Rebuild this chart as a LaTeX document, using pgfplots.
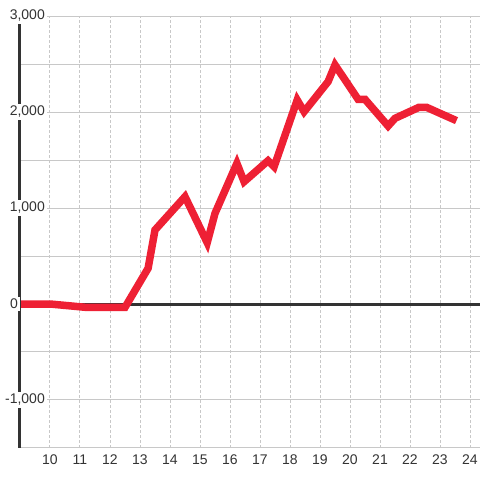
\documentclass[border=0pt]{standalone}
\usepackage{pgfplots}
\pgfplotsset{compat=1.18}
\usepackage{fontspec}
\setmainfont{Liberation Sans}
\definecolor{lred}{RGB}{238,32,52}
\definecolor{axdark}{RGB}{51,51,51}
\definecolor{gridgray}{RGB}{200,200,200}
\definecolor{txt}{RGB}{51,51,51}
\begin{document}
\begin{tikzpicture}
\useasboundingbox (-20pt,-32pt) rectangle (460pt,448pt);
\begin{axis}[
  scale only axis,
  width=460pt, height=432pt,
  xmin=9, xmax=24.3333,
  ymin=-1500, ymax=3000,
  clip=false,
  axis line style={draw=none},
  xtick={10,11,...,24},
  ytick={-1500,-1000,...,3000},
  yticklabels={},
  major tick length=0pt,
  xmajorgrids, ymajorgrids,
  x grid style={color=gridgray, line width=1pt, dash pattern=on 2.5pt off 2.5pt},
  y grid style={color=gridgray, line width=1pt},
  /pgf/number format/assume math mode=true,
  tick label style={font=\fontsize{14}{16}\selectfont, text=txt},
  xticklabel style={yshift=-3pt},
]
\draw[axdark, line width=3pt] (axis cs:9,0) -- (axis cs:24.3333,0);
\addplot[lred, line width=7.5pt, mark=none] coordinates {
(9,0) (10,0) (11.2,-35) (12.5,-35) (13.27,372) (13.5,771) (14.5,1118)
(15.24,639) (15.5,944) (16.23,1465) (16.47,1274) (17.27,1493) (17.47,1430)
(18.24,2125) (18.47,2003) (19.27,2316) (19.5,2490) (20.27,2132) (20.5,2132)
(21.27,1854) (21.5,1934) (22.3,2049) (22.55,2049) (23.55,1910)
};
\draw[axdark, line width=3pt] (axis cs:9,-1500) -- (axis cs:9,3000);
\begin{scope}[every node/.style={fill=white, inner sep=2pt, text=txt, font=\fontsize{14}{16}\selectfont}]
\node[anchor=east] at (axis cs:9.9,3000) {3,000};
\node[anchor=east] at (axis cs:9.9,2000) {2,000};
\node[anchor=east] at (axis cs:9.9,1000) {1,000};
\node[anchor=east] at (axis cs:9.0,0) {0};
\node[anchor=east] at (axis cs:9.9,-1000) {-1,000};
\end{scope}
\end{axis}
\end{tikzpicture}
\end{document}
